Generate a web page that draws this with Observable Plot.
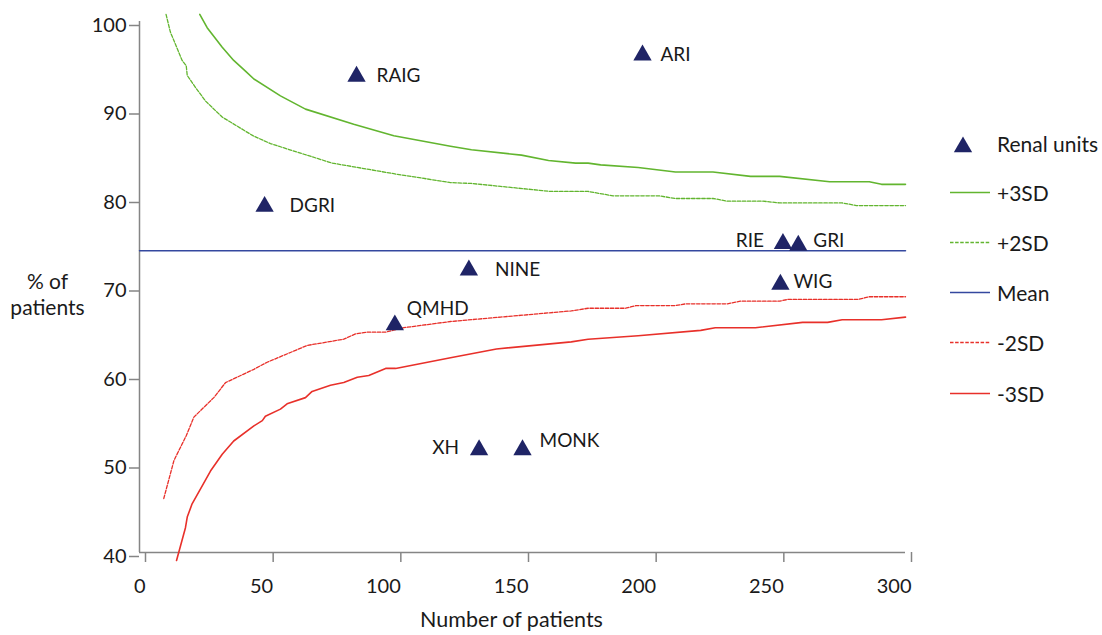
<!DOCTYPE html>
<html><head><meta charset="utf-8">
<script src="https://cdn.jsdelivr.net/npm/d3@7"></script>
<script src="https://cdn.jsdelivr.net/npm/@observablehq/plot@0.6"></script>
<style>body{margin:0;background:#fff;} #chart{width:1102px;height:635px;}</style>
</head><body><div id="chart"></div>
<script>
// ---- data ----
const unitNames = ["RAIG", "ARI", "DGRI", "NINE", "QMHD", "RIE", "GRI", "WIG", "XH", "MONK"];
const unitPatients = [85, 197, 49, 129, 100, 252, 258, 251, 133, 150];
const unitPercent = [93.8, 96.2, 79.1, 71.9, 65.7, 74.9, 74.7, 70.3, 51.6, 51.6];

const plus3N = [23.6, 26.5, 32.4, 36.9, 41.5, 44.8, 55.2, 65, 83.9, 99.6, 121.8, 130, 149.6, 160.2, 170.8, 175.7, 180.6, 195.3, 209.9, 224.6, 239.3, 250.7, 270.3, 285.8, 290.6, 300];
const plus3V = [100.8, 99.3, 97.1, 95.6, 94.4, 93.5, 91.6, 90.1, 88.4, 87.1, 85.9, 85.5, 84.9, 84.3, 84.0, 84.0, 83.8, 83.5, 83.0, 83.0, 82.5, 82.5, 81.9, 81.9, 81.6, 81.6];

const plus2N = [10.4, 12.1, 16.7, 18.3, 18.7, 22.3, 25.9, 32.4, 44.4, 51.3, 64.4, 75.5, 99.6, 121.8, 130, 161, 175.7, 185.5, 203.4, 209.9, 224.6, 230.3, 244.2, 250.7, 275.2, 280.8, 300];
const plus2V = [100.8, 98.8, 95.6, 95.0, 93.9, 92.4, 91.0, 89.2, 87.1, 86.2, 85.0, 84.0, 82.8, 81.8, 81.7, 80.8, 80.8, 80.3, 80.3, 80.0, 80.0, 79.7, 79.7, 79.5, 79.5, 79.2, 79.2];

const meanN = [0, 300];
const meanV = [74.1, 74.1];

const minus2N = [9.5, 13.5, 18.3, 21.3, 29.1, 33.7, 44.8, 50, 59.1, 65.7, 80, 84.6, 89.2, 96.4, 103.5, 121.8, 141.4, 169.1, 175.7, 190.4, 194.5, 209.9, 214, 230.3, 235.3, 250.7, 254, 281.6, 285.8, 300];
const minus2V = [46.1, 50.4, 53.2, 55.3, 57.5, 59.2, 60.7, 61.5, 62.6, 63.4, 64.1, 64.7, 64.9, 64.9, 65.4, 66.1, 66.6, 67.3, 67.6, 67.6, 67.9, 67.9, 68.1, 68.1, 68.4, 68.4, 68.6, 68.6, 68.9, 68.9];

const minus3N = [14.5, 18.0, 18.7, 20.6, 27.8, 32.4, 36.9, 44.8, 48.1, 49.3, 55.2, 57.8, 65, 67.6, 74.8, 80, 85.3, 89.8, 96.4, 100.3, 121.8, 139.8, 169.1, 175.7, 195.3, 219.8, 225.5, 241.2, 259.7, 269.5, 275.2, 290.6, 300];
const minus3V = [39.1, 42.8, 44.0, 45.5, 49.2, 51.1, 52.6, 54.3, 54.9, 55.4, 56.2, 56.8, 57.5, 58.2, 58.9, 59.2, 59.8, 60.0, 60.8, 60.8, 62.0, 63.0, 63.8, 64.1, 64.5, 65.1, 65.4, 65.4, 66.0, 66.0, 66.3, 66.3, 66.6];

const xTicks = [0, 50, 100, 150, 200, 250, 300];
const yTicks = [40, 50, 60, 70, 80, 90, 100];
const legendLabels = ["Renal units", "+3SD", "+2SD", "Mean", "-2SD", "-3SD"];
const xLabel = "Number of patients";
const yLabel = "% of\npatients";

// ---- styling ----
const fontFamily = "Lato, 'Open Sans', sans-serif";
const green = "#62b52f", red = "#e8302a", blue = "#34489f", navy = "#1f2466", axisGray = "#858585", ink = "#1a1a1a";
const dashed = "3.5,1.6";

const toRows = (ns, vs) => ns.map((n, i) => ({n, v: vs[i]}));
const units = unitNames.map((name, i) => ({name, n: unitPatients[i], v: unitPercent[i]}));

const series = [
  {rows: toRows(plus3N, plus3V), stroke: green, dash: null, width: 1.6},
  {rows: toRows(plus2N, plus2V), stroke: green, dash: dashed, width: 1.3},
  {rows: toRows(meanN, meanV), stroke: blue, dash: null, width: 1.5},
  {rows: toRows(minus2N, minus2V), stroke: red, dash: dashed, width: 1.3},
  {rows: toRows(minus3N, minus3V), stroke: red, dash: null, width: 1.6}
];

// label placement: [textAnchor, dx, dy]
const placement = {
  RAIG: ["start", 20, 0], ARI: ["start", 18, 0], DGRI: ["start", 25, -1], NINE: ["start", 26, 0],
  QMHD: ["start", 12, -16], RIE: ["end", -19, -3], GRI: ["start", 15, -4], WIG: ["start", 13, -2],
  XH: ["end", -20, -2], MONK: ["start", 17, -9]
};

const lineMarks = series.map(s => Plot.line(s.rows, {
  x: "n", y: "v", stroke: s.stroke, strokeWidth: s.width, strokeDasharray: s.dash, curve: "linear"
}));

const labelMarks = units.map(u => {
  const [anchor, dx, dy] = placement[u.name];
  return Plot.text([u], {x: "n", y: "v", text: "name", textAnchor: anchor, dx, dy,
    fontSize: 19, fill: ink, style: "letter-spacing:-0.6px"});
});

const chart = Plot.plot({
  width: 1102, height: 635,
  marginLeft: 139, marginRight: 197, marginTop: 21, marginBottom: 83,
  style: {fontFamily, fontSize: "20px", color: ink, background: "white", overflow: "visible"},
  x: {domain: [0, 300]},
  y: {domain: [40, 100]},
  marks: [
    Plot.axisX({ticks: xTicks, tickSize: 10, tickPadding: 16, stroke: axisGray, strokeWidth: 1.5,
      fill: ink, label: null, textAnchor: "end", dx: 6, fontSize: 20}),
    Plot.axisY({ticks: yTicks, tickSize: 10, tickPadding: 3, stroke: axisGray, strokeWidth: 1.5,
      fill: ink, label: null, dy: 4, fontSize: 20}),
    Plot.ruleX([0], {y1: 40, y2: 100, stroke: axisGray, strokeWidth: 1.5}),
    Plot.ruleY([40], {x1: 0, x2: 300, stroke: axisGray, strokeWidth: 1.5}),
    ...lineMarks,
    Plot.dot(units, {x: "n", y: "v", symbol: "triangle", r: 6.8, fill: navy, stroke: null}),
    ...labelMarks,
    Plot.text([xLabel], {frameAnchor: "bottom", dx: -11, dy: 74, fontSize: 21.5, fill: ink}),
    Plot.text([yLabel], {frameAnchor: "left", dx: -92, dy: 7, fontSize: 21, fill: ink, lineHeight: 1.2, textAnchor: "middle"})
  ]
});
document.getElementById("chart").appendChild(chart);

// ---- legend (right side, drawn into the same SVG) ----
const svg = d3.select(chart);
const lg = svg.append("g").attr("font-family", fontFamily).attr("font-size", 21)
  .attr("fill", ink).attr("text-anchor", "start");
const rowY = [145, 194, 244, 294, 344, 395];
const tri = d3.symbol(d3.symbolTriangle, Math.PI * 6.8 * 6.8)();
lg.append("path").attr("d", tri).attr("fill", navy).attr("transform", `translate(963,${rowY[0] + 2})`);
series.forEach((s, i) => {
  lg.append("line").attr("x1", 950).attr("x2", 990).attr("y1", rowY[i + 1] - 1.5).attr("y2", rowY[i + 1] - 1.5)
    .attr("stroke", s.stroke).attr("stroke-width", s.width).attr("stroke-dasharray", s.dash);
});
legendLabels.forEach((t, i) => {
  lg.append("text").attr("x", 997).attr("y", rowY[i]).attr("dy", "0.35em").attr("text-anchor", "start").text(t);
});
</script>
</body></html>
